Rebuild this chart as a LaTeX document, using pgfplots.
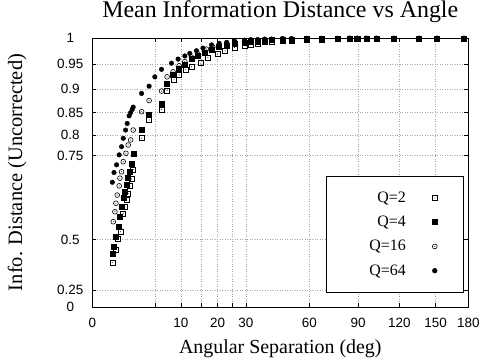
\documentclass[border=0pt]{standalone}
\usepackage{fontspec}
\setmainfont{Liberation Serif}
\newfontfamily\sansf{Liberation Sans}
\usepackage{pgfplots}
\pgfplotsset{compat=1.18}
\pgfdeclareplotmark{sqdot}{%
  \pgfpathrectangle{\pgfpoint{-\pgfplotmarksize}{-\pgfplotmarksize}}{\pgfpoint{2\pgfplotmarksize}{2\pgfplotmarksize}}%
  \pgfusepathqstroke
  \pgfpathcircle{\pgfpointorigin}{0.5pt}\pgfusepathqfill}
\pgfdeclareplotmark{circdot}{%
  \pgfpathcircle{\pgfpointorigin}{\pgfplotmarksize}\pgfusepathqstroke
  \pgfpathcircle{\pgfpointorigin}{0.5pt}\pgfusepathqfill}
\begin{document}
\begin{tikzpicture}
\useasboundingbox (0,0) rectangle (482bp,364bp);
\begin{axis}[
  at={(92.3bp,57bp)}, anchor=south west,
  scale only axis, width=376bp, height=269bp,
  x coord trafo/.code={\pgfmathparse{sqrt(#1)}},
  x coord inv trafo/.code={\pgfmathparse{(#1)*(#1)}},
  y coord trafo/.code={\pgfmathparse{(#1)*(#1)}},
  y coord inv trafo/.code={\pgfmathparse{sqrt(#1)}},
  xmin=0, xmax=180, ymin=0, ymax=1,
  enlargelimits=false, clip=false,
  xtick={0,5,10,15,20,25,30,60,90,120,150,180},
  xticklabels={0,,10,,20,,30,60,90,120,150,180},
  ytick={0,0.25,0.5,0.75,0.8,0.85,0.9,0.95,1},
  yticklabels={0,0.25,0.5,0.75,0.8,0.85,0.9,0.95,1},
  grid=major,
  major grid style={gray!70, line width=0.6bp, dash pattern=on 1bp off 1.5bp},
  axis line style={black, line width=0.8bp},
  tick style={black, line width=0.6bp},
  major tick length=4bp,
  ticklabel style={font=\sansf\fontsize{13.5}{15}\selectfont},
  xticklabel style={anchor=center, yshift=-16bp},
  yticklabel style={anchor=center, xshift=-22bp},
  title={Mean Information Distance vs Angle},
  title style={at={(0.5,1.0744)}, anchor=center, font=\fontsize{24}{28}\selectfont},
  xlabel={Angular Separation (deg)},
  xlabel style={at={(0.5,-0.1561)}, anchor=center, font=\fontsize{20}{24}\selectfont},
  ylabel={Info. Distance (Uncorrected)},
  ylabel style={at={(-0.2003,0.5)}, anchor=center, font=\fontsize{20.5}{24}\selectfont},
  legend style={at={(0.9886,0.052)}, anchor=south east, draw=black, fill=white,
    line width=0.6bp, font=\fontsize{16}{18}\selectfont, inner ysep=14bp, inner xsep=2bp, row sep=8.2bp},
  legend cell align=right,
  legend plot pos=right,
  legend image code/.code={\path[draw=none,fill=none] (0cm,0cm) -- (1.9cm,0cm);\draw[mark repeat=2,mark phase=2,#1] plot coordinates {(0cm,0cm) (0.95cm,0cm) (1.9cm,0cm)};},
]
\addplot[only marks, mark=sqdot, mark size=2.5bp, black, line width=0.6bp] coordinates {
(0.51,0.406) (0.71,0.463) (0.86,0.505) (1.02,0.529) (1.22,0.590) (1.35,0.610) (1.5,0.630) (1.64,0.650) (1.8,0.670) (1.97,0.690) (2.13,0.715)
(3.09,0.792) (4.11,0.834) (6.1,0.857) (7.12,0.897) (8.5,0.919) (9.6,0.929) (11.1,0.940) (12.5,0.945) (15,0.952) (17,0.963) (20,0.970) (22.5,0.976)
(25.8,0.982) (29.5,0.986) (32,0.988) (34.8,0.990) (37.8,0.992) (40.9,0.993) (46.1,0.994) (50.5,0.995) (58.4,0.996) (66.8,0.997) (76.5,0.998)
(84.1,0.998) (89.4,0.998) (95.6,0.998) (102.7,0.999) (116,0.999) (136,0.999) (151.4,0.999) (176,0.998)
};
\addlegendentry{\makebox[76bp][r]{Q=2}}
\addplot[only marks, mark=square*, mark size=2.5bp, black] coordinates {
(0.53,0.447) (0.60,0.474) (0.71,0.511) (0.86,0.546) (0.97,0.579) (1.09,0.611) (1.22,0.636) (1.35,0.655) (1.50,0.673) (1.64,0.692) (1.80,0.709) (1.97,0.731) (2.13,0.756)
(3.09,0.811) (4.11,0.845) (6.1,0.869) (7.12,0.912) (8.3,0.929) (9.6,0.942) (10.9,0.949) (12.5,0.960) (14.2,0.966) (16.1,0.972) (18.3,0.978) (20.5,0.983) (23,0.986)
(25.8,0.989) (29.5,0.991) (32,0.993) (34.8,0.994) (37.8,0.995) (40.9,0.996) (46.1,0.997) (50.5,0.997) (58.4,0.998) (66.8,0.998) (76.5,0.999)
(84.1,0.999) (89.4,0.999) (95.6,0.999) (102.7,0.999) (116,0.999) (136,0.999) (151.4,0.999) (176,0.999)
};
\addlegendentry{\makebox[76bp][r]{Q=4}}
\addplot[only marks, mark=circdot, mark size=2.4bp, black, line width=0.6bp] coordinates {
(0.56,0.563) (0.65,0.595) (0.71,0.621) (0.79,0.645) (0.92,0.671) (0.97,0.692) (1.09,0.709) (1.22,0.735) (1.44,0.756) (1.64,0.776) (1.87,0.788) (2.13,0.811)
(3.09,0.852) (4.11,0.876) (6.1,0.896) (7.12,0.925) (8.3,0.935) (9.6,0.947) (10.9,0.955) (12.5,0.964) (14.2,0.970) (16.6,0.979) (18.5,0.983) (20.5,0.987) (23,0.990)
(25.8,0.992) (29.5,0.994) (32,0.995) (34.8,0.996) (37.8,0.997) (40.9,0.997) (46.1,0.998) (50.5,0.998) (58.4,0.999) (66.8,0.999) (76.5,0.999)
(84.1,0.9995) (89.4,0.9995) (95.6,0.9995) (102.7,0.9995) (116,0.9995) (136,0.9995) (151.4,0.9995) (176,0.9995)
};
\addlegendentry{\makebox[76bp][r]{Q=16}}
\addplot[only marks, mark=*, mark size=2.3bp, black] coordinates {
(0.51,0.681) (0.60,0.707) (0.75,0.727) (0.92,0.752) (1.09,0.772) (1.22,0.792) (1.41,0.811) (1.55,0.826) (1.73,0.843) (1.87,0.850) (2.03,0.857) (2.13,0.862)
(3.09,0.891) (4.11,0.906) (4.98,0.925) (6.1,0.940) (7.98,0.952) (9.37,0.960) (10.9,0.966) (12.1,0.971) (13.8,0.976) (15.6,0.981) (18.1,0.987) (20.5,0.990) (23,0.992)
(25.8,0.994) (29.5,0.996) (32,0.997) (34.8,0.997) (37.8,0.998) (40.9,0.998) (46.1,0.999) (50.5,0.999) (58.4,0.9995) (66.8,0.9995) (76.5,0.9995)
(84.1,0.9995) (89.4,0.9995) (95.6,0.9995) (102.7,0.9995) (116,0.9995) (136,0.9995) (151.4,0.9995) (176,0.9995)
};
\addlegendentry{\makebox[76bp][r]{Q=64}}
\end{axis}
\end{tikzpicture}
\end{document}
